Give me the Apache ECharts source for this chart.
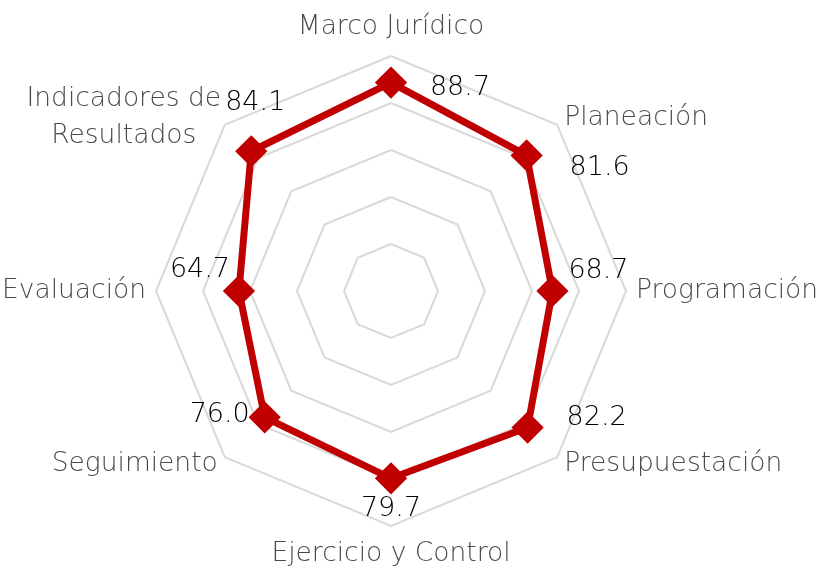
<!DOCTYPE html>
<html>
<head>
<meta charset="utf-8">
<script src="https://cdn.jsdelivr.net/npm/echarts@6/dist/echarts.min.js"></script>
<style>
  html, body { margin: 0; padding: 0; background: #fff; }
  #chart { width: 822px; height: 571px; }
</style>
</head>
<body>
<div id="chart"></div>
<script>
const myChart = echarts.init(document.getElementById('chart'));

// ejes en sentido horario, empezando arriba
const categories = [
  'Marco Jurídico', 'Planeación', 'Programación', 'Presupuestación',
  'Ejercicio y Control', 'Seguimiento', 'Evaluación', 'Indicadores de\nResultados'
];
const values = [88.7, 81.6, 68.7, 82.2, 79.7, 76.0, 64.7, 84.1];
const maxValue = 100;

// desplazamiento de cada etiqueta de valor respecto a su punto
const labelOffsets = [
  [69, 5], [73, 13], [46, -20], [69, -10],
  [0, 31], [-45, -2], [-39, -21], [4, -48]
];

// echarts dibuja el radar en sentido antihorario -> reordenar
const toCcw = arr => [arr[0]].concat(arr.slice(1).reverse());
const ccwCats = toCcw(categories);
const ccwValues = toCcw(values);
const ccwOffsets = toCcw(labelOffsets);

const font = '"DejaVu Sans", sans-serif';

const series = [{
  type: 'radar',
  z: 3,
  symbol: 'diamond',
  symbolSize: 28,
  lineStyle: { color: '#C00000', width: 7 },
  itemStyle: { color: '#C00000', borderColor: '#C00000', borderWidth: 3 },
  label: { show: false },
  data: [{ value: ccwValues }]
}];

// una serie invisible por etiqueta para poder ubicar cada una
ccwValues.forEach(function (v, i) {
  series.push({
    type: 'radar',
    z: 4,
    symbol: 'circle',
    symbolSize: 1,
    silent: true,
    lineStyle: { opacity: 0, width: 0 },
    itemStyle: { color: 'rgba(0,0,0,0)' },
    label: {
      show: true,
      opacity: 1,
      position: 'inside',
      offset: ccwOffsets[i],
      color: '#000',
      fontFamily: font,
      fontWeight: 200,
      fontSize: 27,
      formatter: function (p) {
        const val = Array.isArray(p.value) ? p.value[i] : p.value;
        return val === v ? v.toFixed(1) : '';
      }
    },
    data: [{ value: ccwValues }]
  });
});

const option = {
  backgroundColor: '#fff',
  animation: false,
  radar: {
    center: [391, 291],
    radius: 235,
    startAngle: 90,
    splitNumber: 5,
    shape: 'polygon',
    nameGap: 10,
    indicator: ccwCats.map(n => ({ name: n, min: 0, max: maxValue })),
    axisName: {
      color: '#4a4a4a',
      fontFamily: font,
      fontWeight: 200,
      fontSize: 26.5,
      lineHeight: 37,
      // nombres de dos líneas centrados entre sí
      formatter: function (name) {
        if (name.indexOf('\n') < 0) return name;
        return name.split('\n').map(s => '{c|' + s + '}').join('\n');
      },
      rich: {
        c: {
          width: 188,
          align: 'center',
          color: '#4a4a4a',
          fontFamily: font,
          fontWeight: 200,
          fontSize: 26.5,
          lineHeight: 37
        }
      }
    },
    axisLine: { show: false },
    axisTick: { show: false },
    axisLabel: { show: false },
    splitArea: { show: false },
    splitLine: { lineStyle: { color: '#D9D9D9', width: 2 } }
  },
  series: series
};
myChart.setOption(option);
</script>
</body>
</html>
